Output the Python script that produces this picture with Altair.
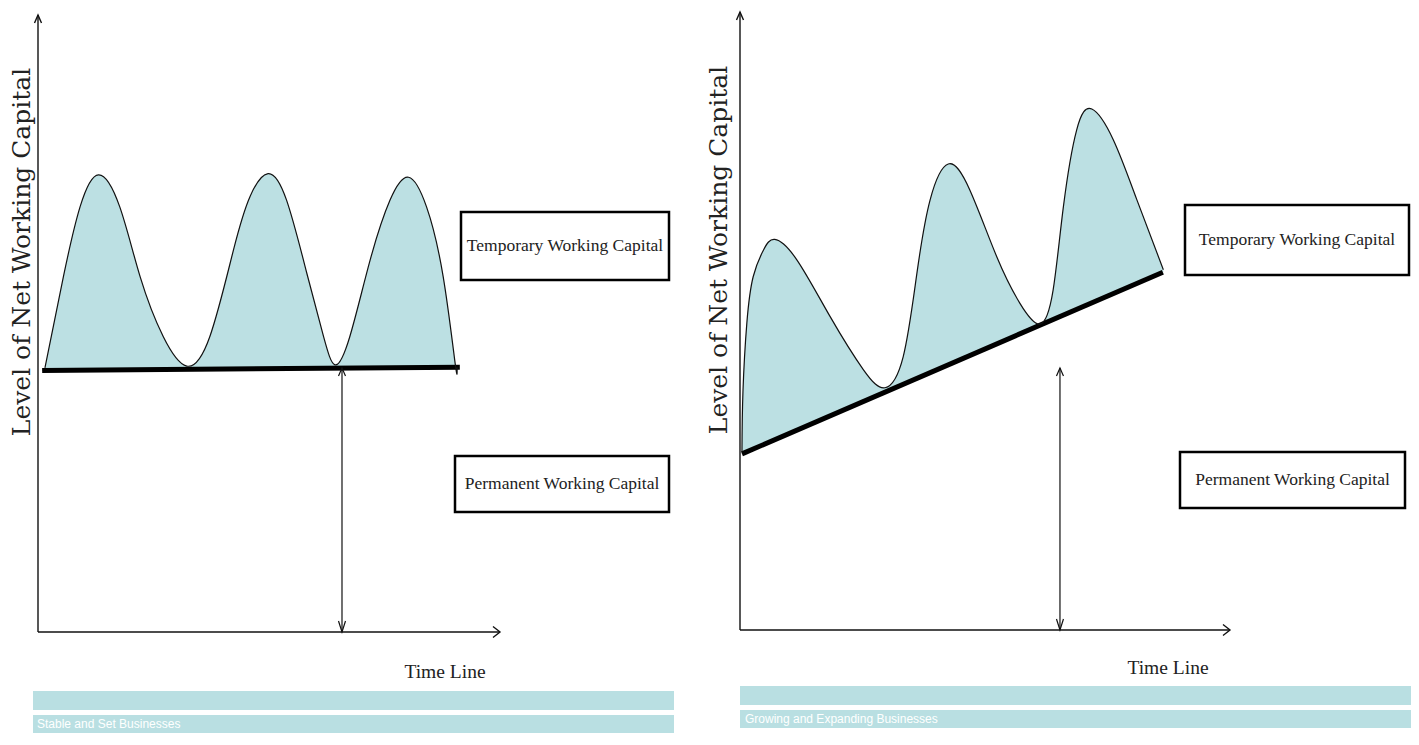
import altair as alt
import numpy as np
import pandas as pd

# ---------------- data (time 0..100 along the time axis, level 0..100 up the level axis)
left_time = [1.5, 5.5, 9.1, 13.1, 17.7, 22.1, 27.1, 32.2, 37.2, 42.3, 45.9, 49.8,
             53.8, 58.2, 61.8, 64.3, 67.5, 71.9, 76.2, 80.2, 84.1, 87.7, 90.3, 90.7]
left_level = [42.8, 57.6, 68.9, 74.1, 68.9, 57.6, 47.9, 43.1, 47.9, 61.9, 70.6, 74.3,
              70.0, 58.1, 47.9, 43.3, 47.9, 60.3, 70.0, 73.7, 68.9, 57.6, 43.5, 42.9]
left_base_time = [0.9, 91.3]
left_base_level = [42.4, 42.9]
left_marker_time = [65.8]
left_marker_level = [42.8]

right_time = [0.4, 0.6, 1.4, 2.7, 4.8, 7.1, 11.6, 18.4, 25.2, 29.6, 33.3, 36.1, 38.8,
              42.5, 46.9, 52.4, 57.1, 61.2, 63.9, 66.0, 68.7, 71.8, 76.2, 81.0, 86.4]
right_level = [28.8, 38.5, 49.7, 57.2, 61.5, 63.2, 59.9, 50.7, 42.1, 39.2, 44.2, 57.7, 69.6,
               75.4, 71.2, 60.4, 52.9, 49.5, 55.0, 68.5, 80.9, 84.3, 79.3, 69.6, 58.3]
right_base_time = [0.4, 86.3]
right_base_level = [28.5, 57.9]
right_marker_time = [65.3]
right_marker_level = [42.4]

axis_extent = [0, 100]

y_title = "Level of Net Working Capital"
x_title = "Time Line"
temp_label = "Temporary Working Capital"
perm_label = "Permanent Working Capital"
left_caption = "Stable and Set Businesses"
right_caption = "Growing and Expanding Businesses"

FILL = "#BCE0E3"
BAR = "#B9DFE2"
INK = "#111111"
SERIF = "Liberation Serif"
WIDE_SERIF = "DejaVu Serif"
NARROW = "'Liberation Sans Narrow', 'Liberation Sans', sans-serif"
CURVE = "natural"

UP = "M -3.5 8 L 0 0 L 3.5 8"
RIGHT = "M -7 -5.5 L 0 0 L -7 5.5"
DOWN = "M -3.5 -11 L 0 0 L 3.5 -11"


def panel(time, level, base_t, base_l, mark_t, mark_l, xr, yr, width, height,
          temp_box, perm_box, ylab_pos, xlab_pos, bars, caption_pos, caption):
    xs = alt.Scale(domain=[0, 100], range=xr, nice=False, zero=False)
    ys = alt.Scale(domain=[0, 100], range=yr, nice=False, zero=False)
    X = lambda f: alt.X(f, type="quantitative", scale=xs, axis=None)
    Y = lambda f: alt.Y(f, type="quantitative", scale=ys, axis=None)

    curve = pd.DataFrame({
        "t": time,
        "level": level,
        "base": np.interp(time, base_t, base_l),
    })
    base = pd.DataFrame({"t": base_t, "level": base_l})

    area = alt.Chart(curve).mark_area(color=FILL, interpolate=CURVE, opacity=1).encode(
        x=X("t"), y=Y("level"), y2="base")
    outline = alt.Chart(curve).mark_line(color=INK, strokeWidth=1.2, interpolate=CURVE).encode(
        x=X("t"), y=Y("level"))
    baseline = alt.Chart(base).mark_line(color="black", strokeWidth=5).encode(
        x=X("t"), y=Y("level"))

    axes = pd.DataFrame({"lo": [axis_extent[0]], "hi": [axis_extent[1]]})
    y_axis = alt.Chart(axes).mark_rule(color=INK, strokeWidth=1.4).encode(
        x=X("lo"), y=Y("lo"), y2="hi")
    x_axis = alt.Chart(axes).mark_rule(color=INK, strokeWidth=1.4).encode(
        y=Y("lo"), x=X("lo"), x2="hi")
    y_head = alt.Chart(axes).mark_point(shape=UP, size=4, filled=False, color=INK,
                                        strokeWidth=1.4, opacity=1).encode(x=X("lo"), y=Y("hi"))
    x_head = alt.Chart(axes).mark_point(shape=RIGHT, size=4, filled=False, color=INK,
                                        strokeWidth=1.4, opacity=1).encode(x=X("hi"), y=Y("lo"))

    marker = pd.DataFrame({"t": mark_t, "top": mark_l, "zero": [axis_extent[0]]})
    m_rule = alt.Chart(marker).mark_rule(color=INK, strokeWidth=1.2).encode(
        x=X("t"), y=Y("zero"), y2="top")
    m_up = alt.Chart(marker).mark_point(shape=UP, size=4, filled=False, color=INK,
                                        strokeWidth=1.2, opacity=1).encode(x=X("t"), y=Y("top"))
    m_down = alt.Chart(marker).mark_point(shape=DOWN, size=4, filled=False, color=INK,
                                          strokeWidth=1.2, opacity=1).encode(x=X("t"), y=Y("zero"))

    layers = [area, baseline, outline, y_axis, x_axis, y_head, x_head, m_rule, m_up, m_down]

    for (x0, x1, y0, y1), lab in ((temp_box, temp_label), (perm_box, perm_label)):
        d = pd.DataFrame({"label": [lab]})
        layers.append(alt.Chart(d).mark_rect(fill="white", stroke="black", strokeWidth=2.5).encode(
            x=alt.value(x0), x2=alt.value(x1), y=alt.value(y0), y2=alt.value(y1)))
        layers.append(alt.Chart(d).mark_text(font=SERIF, fontSize=17.5, color="#222",
                                             align="center", baseline="middle").encode(
            x=alt.value((x0 + x1) / 2), y=alt.value((y0 + y1) / 2), text="label:N"))

    layers.append(alt.Chart(pd.DataFrame({"label": [y_title]})).mark_text(
        font=WIDE_SERIF, fontSize=25, angle=270, color="#222", align="center", baseline="middle").encode(
        x=alt.value(ylab_pos[0]), y=alt.value(ylab_pos[1]), text="label:N"))
    layers.append(alt.Chart(pd.DataFrame({"label": [x_title]})).mark_text(
        font=SERIF, fontSize=19.5, color="#222", align="center", baseline="middle").encode(
        x=alt.value(xlab_pos[0]), y=alt.value(xlab_pos[1]), text="label:N"))

    for (x0, x1, y0, y1) in bars:
        layers.append(alt.Chart(pd.DataFrame({"label": [caption]})).mark_rect(fill=BAR).encode(
            x=alt.value(x0), x2=alt.value(x1), y=alt.value(y0), y2=alt.value(y1)))
    layers.append(alt.Chart(pd.DataFrame({"label": [caption]})).mark_text(
        font=NARROW, fontSize=12, color="white", align="left", baseline="middle").encode(
        x=alt.value(caption_pos[0]), y=alt.value(caption_pos[1]), text="label:N"))

    return alt.layer(*layers).properties(width=width, height=height)


left = panel(left_time, left_level, left_base_time, left_base_level,
             left_marker_time, left_marker_level,
             xr=[30, 492], yr=[624, 7], width=696, height=729,
             temp_box=(453, 661, 204, 272), perm_box=(447, 661, 448, 504),
             ylab_pos=(13.5, 244), xlab_pos=(437, 664),
             bars=[(25, 666, 683, 702), (25, 666, 707, 725)],
             caption_pos=(29, 716), caption=left_caption)

right = panel(right_time, right_level, right_base_time, right_base_level,
              right_marker_time, right_marker_level,
              xr=[36, 526], yr=[622, 4], width=707, height=729,
              temp_box=(481, 705, 197, 267), perm_box=(476, 701, 444, 500),
              ylab_pos=(15, 242), xlab_pos=(464, 660),
              bars=[(36, 707, 678, 697), (36, 707, 702, 720)],
              caption_pos=(41, 711), caption=right_caption)

chart = alt.hconcat(left, right, spacing=0, bounds="flush").properties(
    padding=0, background="white"
).configure_view(stroke=None)

chart.save("out.html", embed_options={"renderer": "svg", "actions": False})
